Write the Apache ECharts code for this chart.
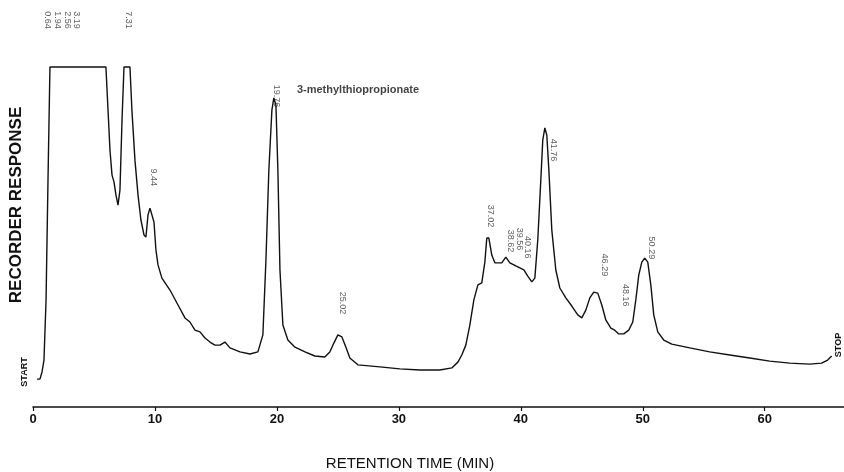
<!DOCTYPE html>
<html>
<head>
<meta charset="utf-8">
<script src="https://cdn.jsdelivr.net/npm/echarts@6/dist/echarts.min.js"></script>
<style>
  html, body { margin: 0; padding: 0; background: #fff; }
  #chart { width: 844px; height: 472px; }
</style>
</head>
<body>
<div id="chart"></div>
<script>
// retention time (min) and recorder response (0-100, 100 = pen at full scale)
const retentionTime = [
  0.33, 0.57, 0.74, 0.90, 1.07, 1.23, 1.39, 5.98, 6.15, 6.31, 6.48, 6.64, 6.80, 6.97, 7.13, 7.30, 7.46, 7.95,
  8.11, 8.36, 8.61, 8.85, 9.10, 9.26, 9.43, 9.59, 9.75, 9.92, 10.08, 10.25, 10.57, 11.23, 11.89, 12.46, 12.87,
  13.28, 13.69, 14.10, 14.51, 14.92, 15.33, 15.74, 16.15, 16.97, 17.79, 18.44, 18.85, 19.10, 19.34, 19.59, 19.75,
  19.92, 20.08, 20.25, 20.49, 20.90, 21.48, 22.30, 23.11, 23.93, 24.34, 24.67, 25.00, 25.33, 25.66, 25.98, 26.64,
  28.44, 30.08, 31.72, 33.36, 34.34, 34.84, 35.16, 35.49, 35.82, 36.15, 36.48, 36.80, 37.05, 37.21, 37.38, 37.62,
  37.87, 38.44, 38.77, 39.10, 39.59, 39.92, 40.25, 40.57, 40.90, 41.15, 41.39, 41.64, 41.80, 41.97, 42.13, 42.30,
  42.54, 42.87, 43.20, 43.69, 44.18, 44.67, 45.00, 45.33, 45.66, 45.98, 46.31, 46.64, 46.97, 47.38, 47.70, 48.03,
  48.44, 48.85, 49.18, 49.43, 49.67, 49.92, 50.16, 50.41, 50.66, 50.90, 51.23, 51.72, 52.38, 53.85, 55.49, 57.13,
  58.77, 60.41, 62.05, 63.69, 64.67, 65.16, 65.49
];
const response = [
  8.2, 8.2, 10.3, 13.8, 31.5, 66.8, 100, 100, 87.4, 75.6, 68.2, 66.2, 62.4, 59.4, 63.8, 84.4, 100, 100,
  87.4, 72.6, 62.4, 55.0, 50.6, 50.0, 56.5, 58.5, 58.8, 54.4, 46.2, 41.8, 37.9, 34.4, 30.0, 26.2, 25.0,
  22.6, 22.1, 20.3, 19.1, 18.2, 18.2, 19.1, 17.4, 16.2, 15.6, 16.2, 21.2, 43.2, 69.7, 87.4, 90.9,
  88.8, 69.7, 40.3, 24.1, 19.7, 17.6, 16.2, 15.0, 14.7, 16.2, 18.8, 21.2, 20.6, 17.6, 14.4, 12.4,
  11.8, 11.2, 10.9, 10.9, 11.5, 13.2, 15.3, 18.2, 24.1, 31.5, 35.9, 36.5, 42.6, 49.7, 49.7, 44.7,
  42.4, 42.4, 44.1, 42.4, 41.5, 40.9, 40.3, 38.5, 36.8, 37.9, 49.1, 66.8, 78.5, 82.1, 80.0, 69.7,
  52.1, 40.3, 35.0, 32.1, 29.7, 27.1, 26.2, 28.5, 32.1, 33.8, 33.5, 30.0, 25.6, 23.2, 22.6, 21.5,
  21.5, 22.6, 25.0, 31.5, 38.8, 42.6, 43.8, 42.6, 35.9, 27.1, 22.1, 19.7, 18.5, 17.4, 16.2, 15.3,
  14.4, 13.5, 12.9, 12.6, 12.9, 13.8, 15.0
];

// peak retention labels written on the chart
const peakNames = ['0.64', '1.94', '2.56', '3.19', '7.31', '9.44', '19.76', '25.02', '37.02',
  '38.62', '39.56', '40.16', '41.76', '46.29', '48.16', '50.29'];
const labelTime = [1.2, 2.0, 2.8, 3.6, 7.79, 9.84, 19.95, 25.41, 37.54, 39.18, 39.92, 40.57, 42.70, 46.89, 48.61, 50.74];
const labelHeight = [113.8, 113.8, 113.8, 113.8, 113.8, 67.6, 91.5, 30.6, 56.2, 48.8, 49.4, 47.0, 75.6, 41.8, 32.9, 46.8];

const xTicks = [0, 10, 20, 30, 40, 50, 60];

const chart = echarts.init(document.getElementById('chart'));

const labelData = labelTime.map((t, i) => ({
  value: [t, labelHeight[i]],
  name: peakNames[i]
}));
// compound name next to the 19.76 peak
labelData.push({
  value: [21.64, 93.2],
  name: '3-methylthiopropionate',
  label: {
    rotate: 0, position: 'right', distance: 0,
    fontSize: 11, fontWeight: 'bold', color: '#111',
    fontFamily: 'Liberation Sans, Arial, sans-serif'
  }
});

const option = {
  animation: false,
  backgroundColor: '#fff',
  grid: { left: 33, right: 0, top: 67, bottom: 65 },
  xAxis: {
    type: 'value',
    min: 0,
    max: 66.5,
    interval: 10,
    axisLine: { show: true, lineStyle: { color: '#111', width: 1.5 } },
    axisTick: { show: true, length: 4, lineStyle: { color: '#111', width: 1.2 } },
    axisLabel: {
      showMaxLabel: false,
      margin: 6,
      color: '#111',
      fontSize: 13,
      fontWeight: 'bold',
      fontFamily: 'Liberation Sans Narrow, Liberation Sans, sans-serif',
      formatter: (v) => xTicks.includes(v) ? String(v) : ''
    },
    splitLine: { show: false }
  },
  yAxis: {
    type: 'value',
    min: 0,
    max: 100,
    show: false
  },
  series: [
    {
      type: 'line',
      data: retentionTime.map((t, i) => [t, response[i]]),
      showSymbol: false,
      clip: false,
      lineStyle: { color: '#111', width: 1.4 },
      silent: true
    },
    {
      type: 'scatter',
      data: labelData,
      symbolSize: 0,
      clip: false,
      silent: true,
      label: {
        show: true,
        position: 'inside',
        rotate: -90,
        formatter: (p) => p.name,
        fontSize: 9,
        color: '#333',
        fontFamily: 'Liberation Sans Narrow, Liberation Sans, sans-serif'
      }
    }
  ],
  graphic: [
    {
      type: 'text',
      x: 16, y: 205,
      rotation: Math.PI / 2,
      style: {
        text: 'RECORDER RESPONSE',
        fill: '#111',
        font: 'bold 17px Liberation Sans, Arial, sans-serif',
        textAlign: 'center',
        textVerticalAlign: 'middle'
      }
    },
    {
      type: 'text',
      x: 410, y: 464,
      style: {
        text: 'RETENTION TIME (MIN)',
        fill: '#111',
        font: '15px Liberation Sans, Arial, sans-serif',
        textAlign: 'center',
        textVerticalAlign: 'middle'
      }
    },
    {
      type: 'text',
      x: 25, y: 372,
      rotation: Math.PI / 2,
      style: {
        text: 'START',
        fill: '#111',
        font: 'bold 9px Liberation Sans, Arial, sans-serif',
        textAlign: 'center',
        textVerticalAlign: 'middle'
      }
    },
    {
      type: 'text',
      x: 839, y: 345,
      rotation: Math.PI / 2,
      style: {
        text: 'STOP',
        fill: '#111',
        font: 'bold 9px Liberation Sans, Arial, sans-serif',
        textAlign: 'center',
        textVerticalAlign: 'middle'
      }
    }
  ]
};

chart.setOption(option);
</script>
</body>
</html>
